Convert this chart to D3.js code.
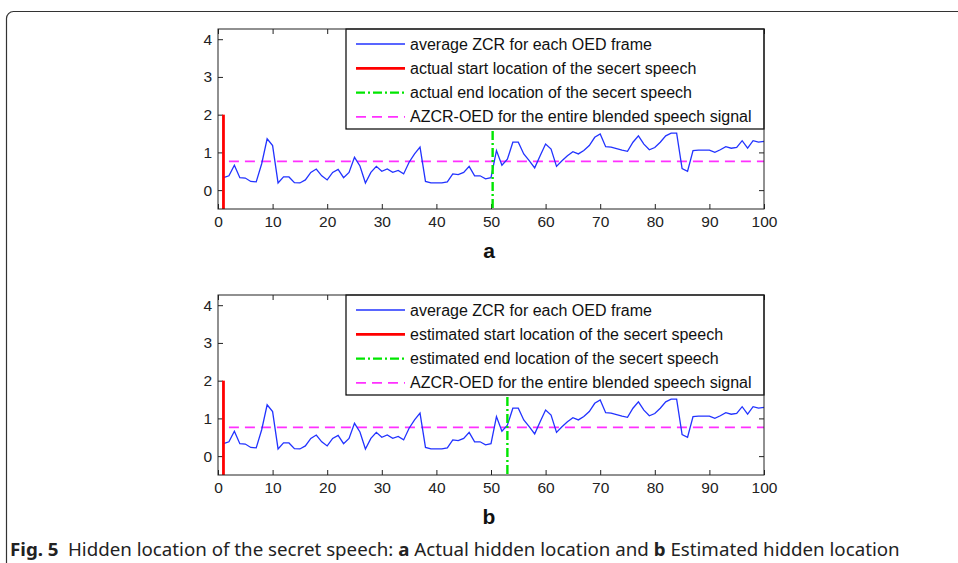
<!DOCTYPE html>
<html>
<head>
<meta charset="utf-8">
<script src="https://cdn.jsdelivr.net/npm/d3@7"></script>
<style>
  body { margin: 0; background: #fff; }
  svg { display: block; }
</style>
</head>
<body>
<svg width="958" height="563"></svg>
<script>
// average ZCR for each OED frame (frames 1..100)
var frames = d3.range(1, 101);
var zcr = [
  0.33, 0.38, 0.66, 0.33, 0.32, 0.23, 0.22, 0.70, 1.36, 1.18,
  0.19, 0.35, 0.35, 0.20, 0.19, 0.27, 0.47, 0.56, 0.38, 0.27,
  0.47, 0.55, 0.33, 0.47, 0.87, 0.64, 0.19, 0.47, 0.63, 0.50,
  0.56, 0.47, 0.52, 0.43, 0.74, 0.96, 1.14, 0.23, 0.19, 0.19,
  0.19, 0.22, 0.43, 0.41, 0.47, 0.63, 0.38, 0.38, 0.30, 0.33,
  1.05, 0.66, 0.82, 1.27, 1.27, 0.96, 0.78, 0.59, 0.91, 1.22,
  1.09, 0.63, 0.78, 0.91, 1.02, 0.96, 1.05, 1.18, 1.40, 1.49,
  1.15, 1.14, 1.10, 1.06, 1.03, 1.27, 1.44, 1.22, 1.07, 1.13,
  1.27, 1.44, 1.51, 1.51, 0.57, 0.50, 1.05, 1.06, 1.06, 1.06,
  1.00, 1.07, 1.15, 1.11, 1.13, 1.31, 1.11, 1.31, 1.27, 1.29
];
var azcrOED = 0.76;
var azcrRange = [2, 100];
var startLoc = 1, startHeight = 2;
var endLocs = [50.3, 53];
var panelLetters = ['a', 'b'];
var xTicks = [0, 10, 20, 30, 40, 50, 60, 70, 80, 90, 100];
var yTicks = [0, 1, 2, 3, 4];
var legendA = ['average ZCR for each OED frame', 'actual start location of the secert speech',
               'actual end location of the secert speech', 'AZCR-OED for the entire blended speech signal'];
var legendB = ['average ZCR for each OED frame', 'estimated start location of the secert speech',
               'estimated end location of the secert speech', 'AZCR-OED for the entire blended speech signal'];

var svg = d3.select('svg');
var axisFont = '"Liberation Sans", Arial, sans-serif';

// outer frame
svg.append('rect')
  .attr('x', 6.5).attr('y', 11.5).attr('width', 980).attr('height', 600)
  .attr('rx', 7).attr('ry', 7)
  .attr('fill', 'none').attr('stroke', '#333').attr('stroke-width', 1.2);

var left = 218, width = 546, height = 180;
var xScale = d3.scaleLinear().domain([0, 100]).range([0, width]);
var yScale = d3.scaleLinear().domain([-0.5, 4.27]).range([height, 0]);

var styles = [
  {stroke: '#2233ff', width: 1.3, dash: null},
  {stroke: '#ff0000', width: 2.8, dash: null},
  {stroke: '#00e600', width: 2.4, dash: '9,3,2,3'},
  {stroke: '#ff30ff', width: 1.7, dash: '10,6'}
];

function panel(top, endLoc, labels, letter) {
  var g = svg.append('g').attr('transform', 'translate(' + left + ',' + top + ')');

  g.append('rect').attr('width', width).attr('height', height).attr('fill', '#fff');

  var ax = g.append('g');
  ax.append('g').attr('transform', 'translate(0,' + height + ')')
    .call(d3.axisBottom(xScale).tickValues(xTicks).tickSize(-5).tickPadding(7).tickFormat(d3.format('d')));
  ax.append('g')
    .call(d3.axisTop(xScale).tickValues(xTicks).tickSize(-5).tickFormat(''));
  ax.append('g')
    .call(d3.axisLeft(yScale).tickValues(yTicks).tickSize(-5).tickPadding(6).tickFormat(d3.format('d')));
  ax.append('g').attr('transform', 'translate(' + width + ',0)')
    .call(d3.axisRight(yScale).tickValues(yTicks).tickSize(-5).tickFormat(''));
  ax.selectAll('.domain').remove();
  ax.selectAll('.tick line').attr('stroke', '#222');
  ax.selectAll('.tick text').attr('font-size', 15.5).attr('fill', '#222')
    .attr('font-family', axisFont);

  // AZCR-OED dashed line
  g.append('line')
    .attr('x1', xScale(azcrRange[0])).attr('x2', xScale(azcrRange[1]))
    .attr('y1', yScale(azcrOED)).attr('y2', yScale(azcrOED))
    .attr('stroke', styles[3].stroke).attr('stroke-width', styles[3].width)
    .attr('stroke-dasharray', styles[3].dash);

  // ZCR series
  var line = d3.line().x(function(d, i) { return xScale(frames[i]); })
    .y(function(d) { return yScale(d); });
  g.append('path').datum(zcr).attr('d', line)
    .attr('fill', 'none').attr('stroke', styles[0].stroke).attr('stroke-width', styles[0].width);

  // start location
  g.append('line')
    .attr('x1', xScale(startLoc)).attr('x2', xScale(startLoc))
    .attr('y1', yScale(startHeight)).attr('y2', height)
    .attr('stroke', styles[1].stroke).attr('stroke-width', styles[1].width);

  // end location
  g.append('line')
    .attr('x1', xScale(endLoc)).attr('x2', xScale(endLoc))
    .attr('y1', 0).attr('y2', height)
    .attr('stroke', styles[2].stroke).attr('stroke-width', styles[2].width)
    .attr('stroke-dasharray', styles[2].dash);

  // legend
  var lx = 128, lw = width - lx, lh = 100;
  var lg = g.append('g').attr('transform', 'translate(' + lx + ',0)');
  lg.append('rect').attr('width', lw).attr('height', lh)
    .attr('fill', '#fff').attr('stroke', '#000').attr('stroke-width', 1.2);
  labels.forEach(function(t, i) {
    var yy = 15 + i * 24.3;
    var s = styles[i];
    lg.append('line').attr('x1', 10).attr('x2', 59).attr('y1', yy).attr('y2', yy)
      .attr('stroke', s.stroke).attr('stroke-width', s.width)
      .attr('stroke-dasharray', s.dash);
    lg.append('text').attr('x', 64).attr('y', yy + 5.5).attr('font-size', 16)
      .attr('font-family', axisFont).attr('fill', '#111').text(t);
  });

  // outer box
  g.append('rect').attr('width', width).attr('height', height)
    .attr('fill', 'none').attr('stroke', '#222').attr('stroke-width', 1);

  svg.append('text').attr('x', left + width / 2 - 2).attr('y', top + height + 49)
    .attr('text-anchor', 'middle').attr('font-size', 21).attr('font-weight', 'bold')
    .attr('font-family', axisFont).attr('fill', '#111').text(letter);
}

panel(29, endLocs[0], legendA, panelLetters[0]);
panel(295, endLocs[1], legendB, panelLetters[1]);

// caption
var cap = svg.append('text').attr('x', 10).attr('y', 556)
  .attr('font-family', '"Noto Sans", "Open Sans", sans-serif').attr('font-size', 18.5).attr('fill', '#222');
cap.append('tspan').attr('font-weight', 'bold').text('Fig. 5');
cap.append('tspan').text('\u2002Hidden location of the secret speech: ');
cap.append('tspan').attr('font-weight', 'bold').text('a');
cap.append('tspan').text(' Actual hidden location and ');
cap.append('tspan').attr('font-weight', 'bold').text('b');
cap.append('tspan').text(' Estimated hidden location');
var cw = cap.node().getComputedTextLength();
var sx = 890 / cw;
cap.attr('transform', 'translate(10,0) scale(' + sx + ',1) translate(-10,0)');
</script>
</body>
</html>
